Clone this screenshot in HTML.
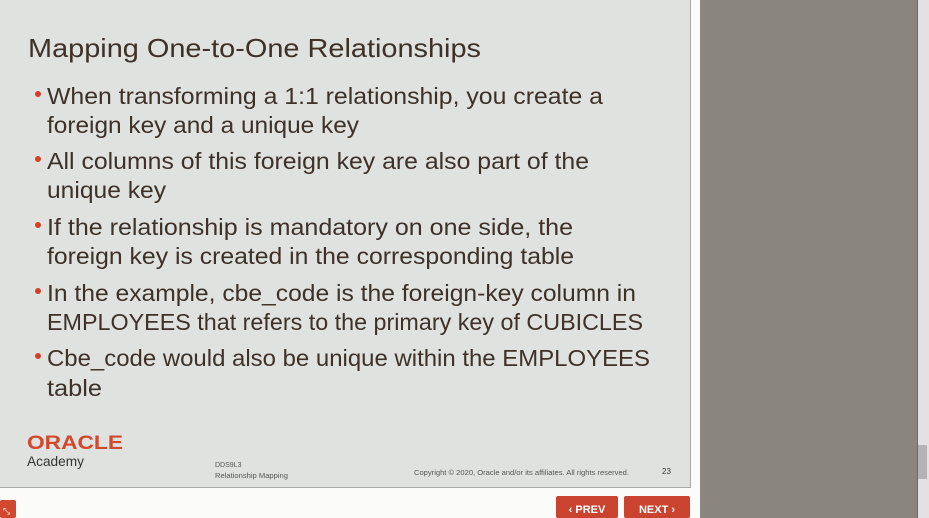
<!DOCTYPE html>
<html><head><meta charset="utf-8"><style>
html,body{margin:0;padding:0;width:929px;height:518px;overflow:hidden;background:#fbfbfa;font-family:"Liberation Sans",sans-serif;}
svg{position:absolute;left:0;top:0}
</style></head><body>
<svg width="929" height="518">
<rect x="0" y="0" width="690" height="487" fill="#e0e2e0"/>
<line x1="690.5" y1="0" x2="690.5" y2="488" stroke="#a8aaa8" stroke-width="1"/>
<line x1="0" y1="487.5" x2="691" y2="487.5" stroke="#a8aaa8" stroke-width="1"/>
<rect x="700" y="0" width="218" height="518" fill="#8a857f"/>
<rect x="917" y="0" width="1" height="518" fill="#6e6a66"/>
<rect x="918" y="0" width="11" height="518" fill="#e2e2e2"/>
<rect x="918" y="445" width="9" height="34" fill="#b4b4b4"/>
<g fill="#3d3128" font-family="Liberation Sans, sans-serif">
<text x="28" y="57" font-size="26" textLength="453" lengthAdjust="spacingAndGlyphs">Mapping One-to-One Relationships</text>
<g font-size="23">
<text x="47" y="104" textLength="556" lengthAdjust="spacingAndGlyphs">When transforming a 1:1 relationship, you create a</text>
<text x="47" y="133" textLength="312" lengthAdjust="spacingAndGlyphs">foreign key and a unique key</text>
<text x="47" y="169" textLength="542" lengthAdjust="spacingAndGlyphs">All columns of this foreign key are also part of the</text>
<text x="47" y="198" textLength="119" lengthAdjust="spacingAndGlyphs">unique key</text>
<text x="47" y="235" textLength="526" lengthAdjust="spacingAndGlyphs">If the relationship is mandatory on one side, the</text>
<text x="47" y="264" textLength="527" lengthAdjust="spacingAndGlyphs">foreign key is created in the corresponding table</text>
<text x="47" y="301" textLength="589" lengthAdjust="spacingAndGlyphs">In the example, cbe_code is the foreign-key column in</text>
<text x="47" y="330" textLength="596" lengthAdjust="spacingAndGlyphs">EMPLOYEES that refers to the primary key of CUBICLES</text>
<text x="47" y="366" textLength="603" lengthAdjust="spacingAndGlyphs">Cbe_code would also be unique within the EMPLOYEES</text>
<text x="47" y="396" textLength="55" lengthAdjust="spacingAndGlyphs">table</text>
</g>
</g>
<g fill="#d2402a">
<circle cx="38" cy="94" r="3"/><circle cx="38" cy="159" r="3"/><circle cx="38" cy="225" r="3"/><circle cx="38" cy="291" r="3"/><circle cx="38" cy="356" r="3"/>
</g>
<text x="27" y="449" font-size="19" font-weight="bold" fill="#d2482e" textLength="96" lengthAdjust="spacingAndGlyphs">ORACLE</text>
<text x="27" y="466" font-size="14" fill="#333" textLength="57" lengthAdjust="spacingAndGlyphs">Academy</text>
<text x="215" y="467" font-size="7" fill="#555">DDS9L3</text>
<text x="215" y="478" font-size="7" fill="#555" textLength="73" lengthAdjust="spacingAndGlyphs">Relationship Mapping</text>
<text x="414" y="475" font-size="7" fill="#555" textLength="215" lengthAdjust="spacingAndGlyphs">Copyright © 2020, Oracle and/or its affiliates. All rights reserved.</text>
<text x="662" y="474" font-size="8" fill="#333">23</text>
<rect x="0" y="500" width="16" height="18" rx="2" fill="#d2482e"/>
<text x="3" y="514" font-size="9" fill="#fff">⤡</text>
<g>
<rect x="556" y="496" width="62" height="22" rx="2" fill="#c9432f"/>
<text x="587" y="513" font-size="11" font-weight="bold" fill="#fff" text-anchor="middle">‹ PREV</text>
</g>
<g>
<rect x="624" y="496" width="66" height="22" rx="2" fill="#c9432f"/>
<text x="657" y="513" font-size="11" font-weight="bold" fill="#fff" text-anchor="middle">NEXT ›</text>
</g>
</svg>
</body></html>
